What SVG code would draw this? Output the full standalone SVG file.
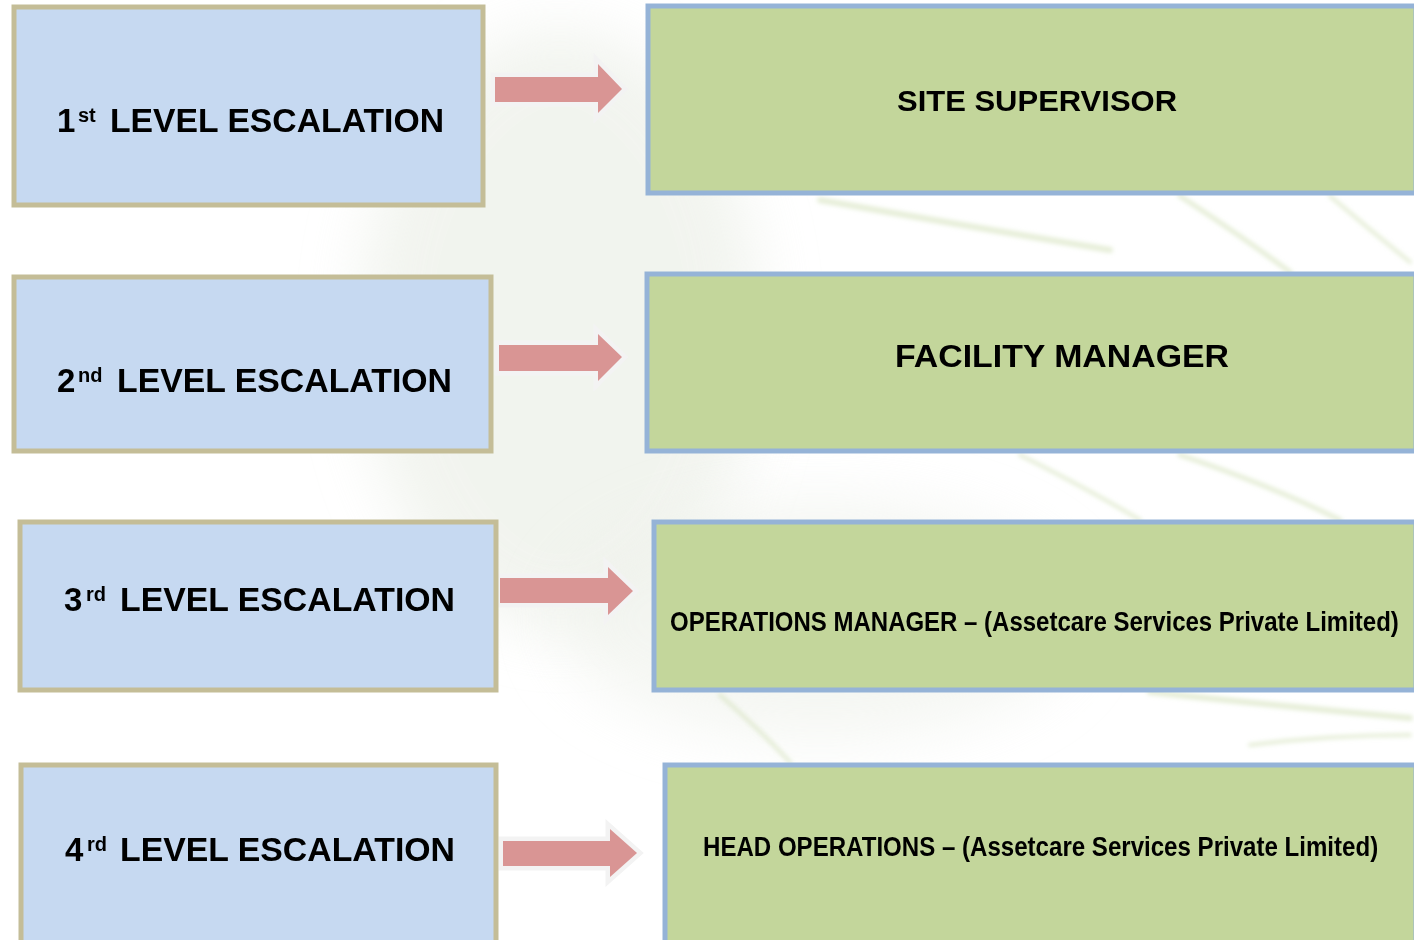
<svg xmlns="http://www.w3.org/2000/svg" width="1414" height="940" viewBox="0 0 1414 940">
<defs>
<filter id="blur" x="-50%" y="-50%" width="200%" height="200%"><feGaussianBlur stdDeviation="30"/></filter>
<filter id="blur2" x="-20%" y="-20%" width="140%" height="140%"><feGaussianBlur stdDeviation="2"/></filter>
<style>
.lbox{fill:#c6d9f1;stroke:#c4bd97;stroke-width:5}
.rbox{fill:#c3d69b;stroke:#95b3d7;stroke-width:5}
.arrow{fill:#d99594;stroke:#f3f3f3;stroke-width:9;stroke-linejoin:miter;paint-order:stroke}
.t{font-family:"Liberation Sans",Arial,sans-serif;font-weight:bold;fill:#000}
.stem{fill:none;stroke:#c8d9a8;stroke-linecap:round;opacity:0.45}
</style>
</defs>
<rect width="1414" height="940" fill="#ffffff"/>
<g id="background">
<ellipse cx="560" cy="330" rx="200" ry="300" fill="#e9ede4" opacity="0.6" filter="url(#blur)"/>
<ellipse cx="820" cy="620" rx="260" ry="120" fill="#eef1ea" opacity="0.6" filter="url(#blur)"/>
<g filter="url(#blur2)">
<path class="stem" stroke-width="6" d="M820 200 Q960 225 1110 250"/>
<path class="stem" stroke-width="5" d="M1180 196 Q1240 235 1290 272"/>
<path class="stem" stroke-width="4" d="M1330 196 Q1370 230 1410 262"/>
<path class="stem" stroke-width="5" d="M1180 455 Q1270 485 1340 520"/>
<path class="stem" stroke-width="4" d="M1020 455 Q1090 490 1140 520"/>
<path class="stem" stroke-width="6" d="M1150 692 Q1270 705 1410 718"/>
<path class="stem" stroke-width="4" d="M1250 745 Q1330 735 1410 735"/>
<path class="stem" stroke-width="4" d="M720 695 Q760 730 790 762"/>
</g>
</g>
<g id="connectors">
<path class="arrow" d="M495 77 H598 V64 L622 89 L598 113 V102 H495 Z"/>
<path class="arrow" d="M499 345 H598 V334 L622 357 L598 381 V371 H499 Z"/>
<path class="arrow" d="M500 578 H608 V567 L633 591 L608 615 V603 H500 Z"/>
<path class="arrow" d="M503 841 H610 V829 L637 853 L610 877 V866 H503 Z"/>
</g>
<g id="level1">
<rect class="lbox" x="14" y="7" width="469" height="198"/>
<text class="t" font-size="33" y="132"><tspan x="57">1</tspan><tspan x="78" y="122" font-size="20">st</tspan><tspan x="110" y="132" textLength="334" lengthAdjust="spacingAndGlyphs">LEVEL ESCALATION</tspan></text>
</g>
<g id="level2">
<rect class="lbox" x="14" y="277" width="477" height="174"/>
<text class="t" font-size="33" y="392"><tspan x="57">2</tspan><tspan x="78" y="382" font-size="20">nd</tspan><tspan x="117" y="392" textLength="335" lengthAdjust="spacingAndGlyphs">LEVEL ESCALATION</tspan></text>
</g>
<g id="level3">
<rect class="lbox" x="20" y="522" width="476" height="168"/>
<text class="t" font-size="33" y="611"><tspan x="64">3</tspan><tspan x="86" y="601" font-size="20">rd</tspan><tspan x="120" y="611" textLength="335" lengthAdjust="spacingAndGlyphs">LEVEL ESCALATION</tspan></text>
</g>
<g id="level4">
<rect class="lbox" x="21" y="765" width="475" height="185"/>
<text class="t" font-size="33" y="861"><tspan x="65">4</tspan><tspan x="87" y="851" font-size="20">rd</tspan><tspan x="120" y="861" textLength="335" lengthAdjust="spacingAndGlyphs">LEVEL ESCALATION</tspan></text>
</g>
<g id="site-supervisor">
<rect class="rbox" x="648" y="6" width="768" height="187"/>
<text class="t" font-size="30" x="897" y="111" textLength="280" lengthAdjust="spacingAndGlyphs">SITE SUPERVISOR</text>
</g>
<g id="facility-manager">
<rect class="rbox" x="647" y="274" width="769" height="177"/>
<text class="t" font-size="32" x="895" y="367" textLength="334" lengthAdjust="spacingAndGlyphs">FACILITY MANAGER</text>
</g>
<g id="operations-manager">
<rect class="rbox" x="654" y="522" width="762" height="168"/>
<text class="t" font-size="28" transform="translate(670 631) scale(0.8573 1)" x="0" y="0">OPERATIONS MANAGER – (Assetcare Services Private Limited)</text>
</g>
<g id="head-operations">
<rect class="rbox" x="665" y="765" width="751" height="185"/>
<text class="t" font-size="28" transform="translate(703 856) scale(0.8598 1)" x="0" y="0">HEAD OPERATIONS – (Assetcare Services Private Limited)</text>
</g>
</svg>
